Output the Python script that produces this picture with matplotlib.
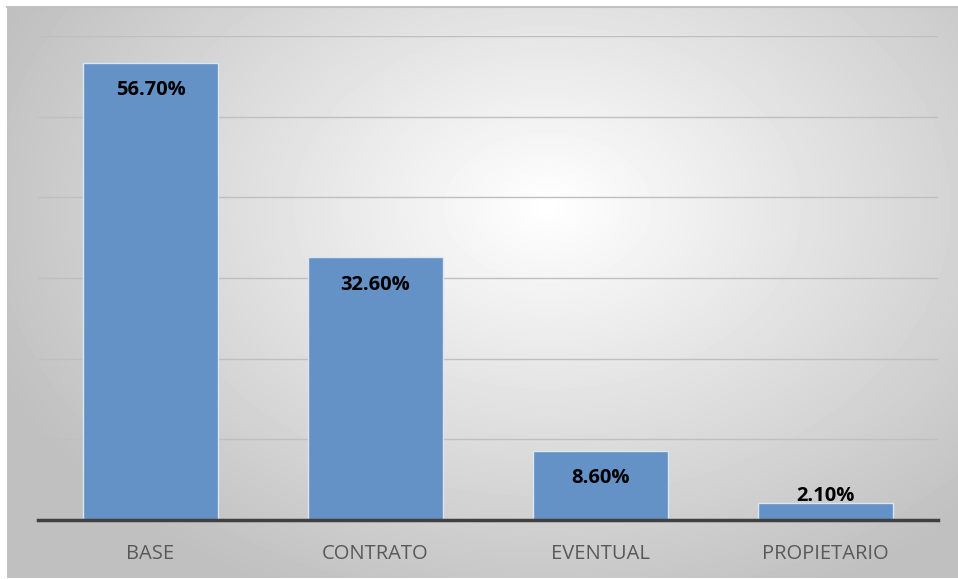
import numpy as np
import matplotlib.pyplot as plt

categories = ['BASE', 'CONTRATO', 'EVENTUAL', 'PROPIETARIO']
values = [56.7, 32.6, 8.6, 2.1]
labels = ['56.70%', '32.60%', '8.60%', '2.10%']

fig = plt.figure(figsize=(9.58, 5.79), dpi=100)

# fondo con degradado radial
bg = fig.add_axes([7/958, 1/579, 951/958, 1 - 8/579])
yy, xx = np.mgrid[0:571, 0:951]
r = np.sqrt(((xx - 540) / 600.0) ** 2 + ((yy - 200) / 430.0) ** 2)
shade = np.clip(1.0 - 0.25 * r, 0.75, 1.0)
bg.imshow(shade, cmap='gray', vmin=0, vmax=1, aspect='auto', interpolation='bilinear')
bg.axis('off')
fig.add_artist(plt.Line2D([7/958, 1], [1 - 7/579, 1 - 7/579], color='#c0c0c0', lw=1.5))

ax = fig.add_axes([38/958, 1 - 520/579, 900/958, 484/579])
ax.patch.set_alpha(0)
x = np.arange(len(categories))
bars = ax.bar(x, values, width=0.6, color='#6491c6', edgecolor='#dbe6f3', linewidth=1, zorder=3)
ax.set_xlim(-0.5, 3.5)
ax.set_ylim(0, 60)
ax.set_yticks(np.arange(0, 61, 10))
ax.yaxis.grid(True, color='#bfbfbf', lw=1, zorder=0)
ax.tick_params(axis='y', left=False, labelleft=False)
ax.tick_params(axis='x', length=0, pad=17, labelsize=14.5, labelcolor='#595959')
ax.set_xticks(x)
ax.set_xticklabels(categories, fontfamily='Open Sans')
for s in ['top', 'left', 'right']:
    ax.spines[s].set_visible(False)
ax.spines['bottom'].set_color('#404040')
ax.spines['bottom'].set_linewidth(2.5)
ax.spines['bottom'].set_zorder(4)

for xi, v, lab in zip(x, values, labels):
    off = -20 if v > 5 else 5
    ax.annotate(lab, (xi, v), xytext=(0, off), textcoords='offset points',
                ha='center', va='center', fontsize=14.5, fontweight='bold',
                fontfamily='Open Sans', color='black', zorder=5)

fig.savefig('out.png', dpi=100)
